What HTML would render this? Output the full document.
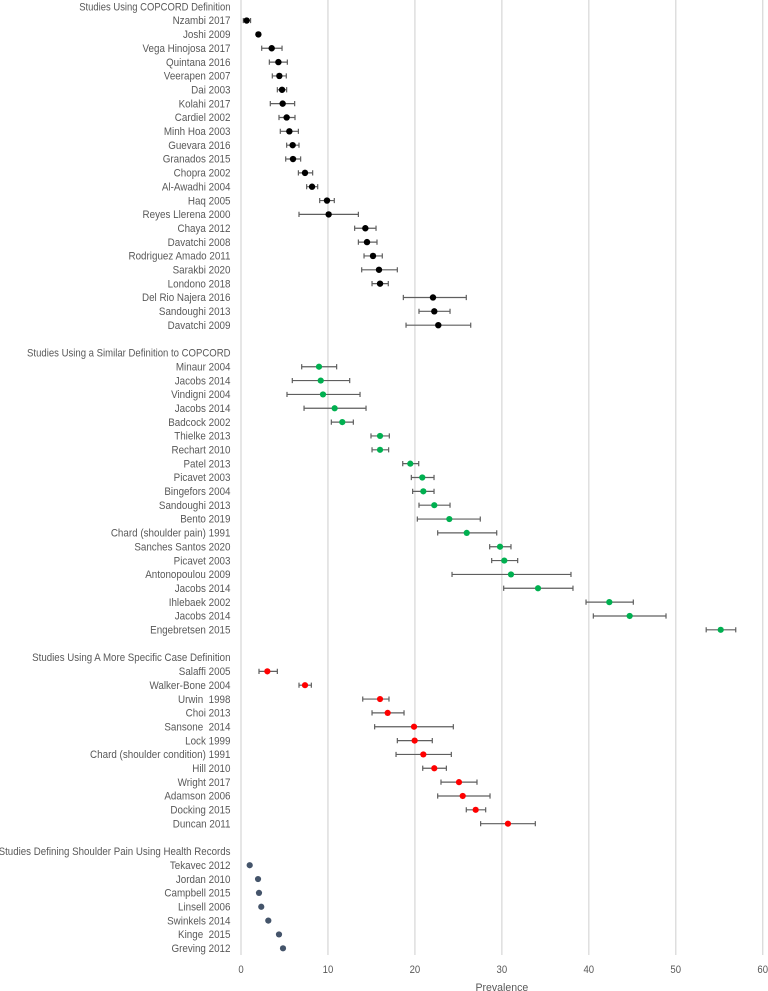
<!DOCTYPE html>
<html lang="en">
<head>
<meta charset="utf-8">
<title>Shoulder pain prevalence forest plot</title>
<style>
html,body{margin:0;padding:0;background:#fff;}
#chart{display:block;width:768px;height:991px;filter:blur(0.3px);}
text{font-family:"Liberation Sans",sans-serif;font-size:11px;fill:#595959;}
</style>
</head>
<body>
<svg id="chart" xmlns="http://www.w3.org/2000/svg" width="768" height="991" viewBox="0 0 768 991"></svg>
<script>
const xTicks = [0, 10, 20, 30, 40, 50, 60];
const xAxisTitle = 'Prevalence';

const group1Title = 'Studies Using COPCORD Definition';
const group1Labels = ['Nzambi 2017','Joshi 2009','Vega Hinojosa 2017','Quintana 2016','Veerapen 2007','Dai 2003','Kolahi 2017','Cardiel 2002','Minh Hoa 2003','Guevara 2016','Granados 2015','Chopra 2002','Al-Awadhi 2004','Haq 2005','Reyes Llerena 2000','Chaya 2012','Davatchi 2008','Rodriguez Amado 2011','Sarakbi 2020','Londono 2018','Del Rio Najera 2016','Sandoughi 2013','Davatchi 2009'];
const group1Values = [0.65,2.0,3.53,4.3,4.41,4.72,4.79,5.25,5.56,5.94,5.98,7.36,8.17,9.89,10.08,14.3,14.49,15.18,15.87,15.99,22.08,22.23,22.69];
const group1Low = [0.27,1.85,2.38,3.26,3.6,4.18,3.37,4.37,4.52,5.25,5.14,6.6,7.55,9.05,6.67,13.07,13.5,14.15,13.88,15.07,18.67,20.47,18.98];
const group1High = [1.1,2.15,4.72,5.33,5.21,5.25,6.17,6.21,6.6,6.67,6.86,8.24,8.82,10.73,13.5,15.53,15.64,16.25,17.98,16.94,25.91,24.04,26.42];

const group2Title = 'Studies Using a Similar Definition to COPCORD';
const group2Labels = ['Minaur 2004','Jacobs 2014','Vindigni 2004','Jacobs 2014','Badcock 2002','Thielke 2013','Rechart 2010','Patel 2013','Picavet 2003','Bingefors 2004','Sandoughi 2013','Bento 2019','Chard (shoulder pain) 1991','Sanches Santos 2020','Picavet 2003','Antonopoulou 2009','Jacobs 2014','Ihlebaek 2002','Jacobs 2014','Engebretsen 2015'];
const group2Values = [8.97,9.17,9.43,10.77,11.65,15.99,15.99,19.47,20.85,20.97,22.23,23.96,25.96,29.79,30.28,31.05,34.16,42.36,44.7,55.17];
const group2Low = [6.98,5.9,5.29,7.25,10.39,14.95,15.07,18.6,19.59,19.74,20.47,20.28,22.62,28.6,28.83,24.27,30.21,39.68,40.52,53.5];
const group2High = [11.0,12.5,13.69,14.38,12.92,17.06,16.98,20.44,22.2,22.2,24.04,27.52,29.41,31.05,31.82,37.95,38.18,45.12,48.88,56.9];

const group3Title = 'Studies Using A More Specific Case Definition';
const group3Labels = ['Salaffi 2005','Walker-Bone 2004','Urwin  1998','Choi 2013','Sansone  2014','Lock 1999','Chard (shoulder condition) 1991','Hill 2010','Wright 2017','Adamson 2006','Docking 2015','Duncan 2011'];
const group3Values = [3.03,7.36,15.99,16.87,19.9,19.97,20.97,22.23,25.07,25.5,26.99,30.7];
const group3Low = [2.07,6.67,14.0,15.07,15.37,17.98,17.83,20.9,23.0,22.62,25.91,27.56];
const group3High = [4.18,8.09,17.02,18.75,24.42,22.0,24.19,23.62,27.14,28.64,28.14,33.85];

const group4Title = 'Studies Defining Shoulder Pain Using Health Records';
const group4Labels = ['Tekavec 2012','Jordan 2010','Campbell 2015','Linsell 2006','Swinkels 2014','Kinge  2015','Greving 2012'];
const group4Values = [1.0,1.96,2.07,2.33,3.14,4.37,4.83];

const NS = 'http://www.w3.org/2000/svg';
const svg = document.getElementById('chart');
const xScale = v => 241 + v * 8.695;
const yScale = row => 6.7 + row * 13.847;
const LABEL_X = 230.5;
const LABEL_SQUEEZE = 0.895;
const TICK_SQUEEZE = 0.87;
const TITLE_SQUEEZE = 0.96;

function make(tag, attrs, parent) {
  const el = document.createElementNS(NS, tag);
  for (const k in attrs) el.setAttribute(k, attrs[k]);
  (parent || svg).appendChild(el);
  return el;
}

function rowLabel(str, row, parent, squeeze) {
  const el = make('text', {
    'text-anchor': 'end',
    transform: 'translate(' + LABEL_X + ',' + (yScale(row) + 3.7) + ') scale(' + squeeze + ',1)'
  }, parent);
  el.setAttribute('xml:space', 'preserve');
  el.style.whiteSpace = 'pre';
  el.textContent = str;
  return el;
}

/* gridlines and x ticks */
const gridGroup = make('g', {});


xTicks.forEach(t => {
  const line = make('line', {x1: xScale(t), x2: xScale(t), y1: 0, y2: 955, stroke: '#dcdcdc', 'stroke-width': 1.4}, gridGroup);
  
  
  const label = make('text', {
    'text-anchor': 'middle',
    transform: 'translate(' + xScale(t) + ',973) scale(' + TICK_SQUEEZE + ',1)'
  }, gridGroup);
  
  
  label.textContent = t;
});

const axisTitle = make('text', {
  'text-anchor': 'middle',
  transform: 'translate(' + xScale(30) + ',991) scale(' + TITLE_SQUEEZE + ',1)'
});


axisTitle.textContent = xAxisTitle;

function drawGroup(name, startRow, title, headingSqueeze, labels, values, low, high, color, radius) {
  const g = make('g', {});
  
  

  const heading = rowLabel(title, startRow, g, headingSqueeze);
  
  

  labels.forEach((lab, i) => {
    const row = startRow + 1 + i;
    const y = yScale(row);

    const text = rowLabel(lab, row, g, LABEL_SQUEEZE);
    
    

    if (low && high) {
      const bar = make('path', {
        d: 'M' + xScale(low[i]) + ' ' + y + 'H' + xScale(high[i]) +
           'M' + xScale(low[i]) + ' ' + (y - 2.6) + 'V' + (y + 2.6) +
           'M' + xScale(high[i]) + ' ' + (y - 2.6) + 'V' + (y + 2.6),
        stroke: '#5f5f5f', 'stroke-width': 1.2, fill: 'none'
      }, g);
      
      
    }

    const dot = make('circle', {cx: xScale(values[i]), cy: y, r: radius, fill: color}, g);
    
    
  });
}

drawGroup('copcord-group', 0, group1Title, 0.86, group1Labels, group1Values, group1Low, group1High, '#000000', 3.2);
drawGroup('similar-definition-group', 25, group2Title, 0.87, group2Labels, group2Values, group2Low, group2High, '#00b050', 3.1);
drawGroup('specific-definition-group', 47, group3Title, 0.885, group3Labels, group3Values, group3Low, group3High, '#ff0000', 3.1);
drawGroup('health-records-group', 61, group4Title, 0.885, group4Labels, group4Values, null, null, '#44546a', 3.1);
</script>
</body>
</html>
